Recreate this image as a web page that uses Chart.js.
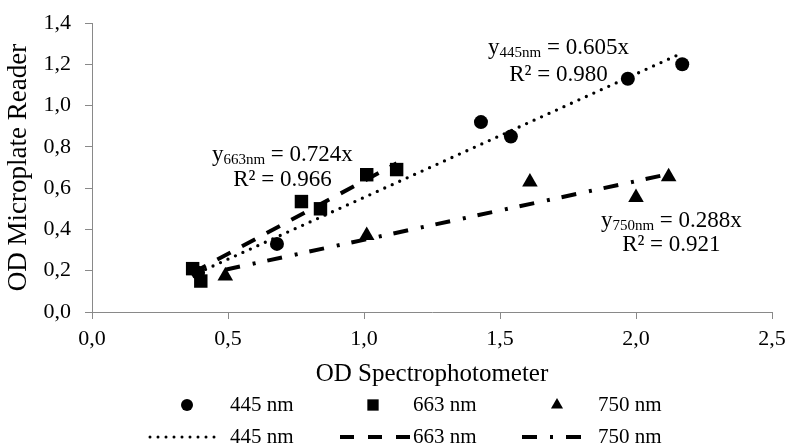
<!DOCTYPE html>
<html>
<head>
<meta charset="utf-8">
<script src="https://cdn.jsdelivr.net/npm/chart.js@4/dist/chart.umd.min.js"></script>
<style>
    body { margin: 0; background: #fff; }
    #wrap { position: relative; width: 787px; height: 447px; }
</style>
</head>
<body>
<div id="wrap"><canvas id="odChart"></canvas></div>
<script>
// measured points
const x445 = [0.39, 0.68, 1.43, 1.54, 1.97, 2.17];
const y445 = [0.19, 0.33, 0.92, 0.85, 1.13, 1.20];
const x663 = [0.37, 0.40, 0.77, 0.84, 1.01, 1.12];
const y663 = [0.21, 0.15, 0.535, 0.50, 0.665, 0.69];
const x750 = [0.49, 1.01, 1.61, 2.00, 2.12];
const y750 = [0.175, 0.37, 0.63, 0.555, 0.655];

// trendline ends
const trend445X = [0.39, 2.17];
const trend445Y = [0.19, 1.255];
const trend663X = [0.37, 1.12];
const trend663Y = [0.19, 0.72];
const trend750X = [0.49, 2.12];
const trend750Y = [0.205, 0.668];

const seriesNames = ['445 nm', '663 nm', '750 nm'];
const xTickLabels = ['0,0', '0,5', '1,0', '1,5', '2,0', '2,5'];
const yTickLabels = ['0,0', '0,2', '0,4', '0,6', '0,8', '1,0', '1,2', '1,4'];

const axisGray = '#898989';
const serif = "'Liberation Serif', 'Times New Roman', serif";

function pts(xs, ys) {
    return xs.map((x, i) => ({ x: x, y: ys[i] }));
}

// equation labels, centre given in data units
const equations = [
    { name: '445nm', slope: '0.605x', r2: '0.980', x: 1.715, y1: 1.278, y2: 1.147 },
    { name: '663nm', slope: '0.724x', r2: '0.966', x: 0.70, y1: 0.759, y2: 0.638 },
    { name: '750nm', slope: '0.288x', r2: '0.921', x: 2.13, y1: 0.441, y2: 0.323 }
];

const equationPlugin = {
    id: 'equations',
    afterDatasetsDraw(chart) {
        const ctx = chart.ctx;
        const xs = chart.scales.x, ys = chart.scales.y;
        ctx.save();
        ctx.fillStyle = '#000';
        ctx.textBaseline = 'middle';
        equations.forEach(eq => {
            const cx = xs.getPixelForValue(eq.x);
            const big = '23px ' + serif, small = '15px ' + serif;
            const rest = ' = ' + eq.slope;
            ctx.font = big;
            const wy = ctx.measureText('y').width;
            const wr = ctx.measureText(rest).width;
            ctx.font = small;
            const ws = ctx.measureText(eq.name).width;
            let x = cx - (wy + ws + wr) / 2;
            const y1 = ys.getPixelForValue(eq.y1);
            ctx.textAlign = 'left';
            ctx.font = big;
            ctx.fillText('y', x, y1);
            ctx.font = small;
            ctx.fillText(eq.name, x + wy, y1 + 5);
            ctx.font = big;
            ctx.fillText(rest, x + wy + ws, y1);
            ctx.textAlign = 'center';
            ctx.fillText('R² = ' + eq.r2, cx, ys.getPixelForValue(eq.y2));
        });
        ctx.restore();
    }
};

const legendPlugin = {
    id: 'twoRowLegend',
    afterDraw(chart) {
        const ctx = chart.ctx;
        const markers = [
            { style: 'circle', r: 6, x: 187 },
            { style: 'rect', r: 8, x: 373 },
            { style: 'triangle', r: 7, x: 557 }
        ];
        const lines = [
            { dash: [0, 8], cap: 'round', w: 3, x0: 150, x1: 222 },
            { dash: [14, 14], cap: 'butt', w: 4, x0: 340, x1: 410 },
            { dash: [15, 13, 3, 13], cap: 'butt', w: 4, x0: 522, x1: 583 }
        ];
        const textX = [230, 413, 598];
        const row1 = 405, row2 = 437;
        ctx.save();
        ctx.fillStyle = '#000';
        ctx.strokeStyle = '#000';
        ctx.font = '21px ' + serif;
        ctx.textBaseline = 'middle';
        ctx.textAlign = 'left';
        markers.forEach((m, i) => {
            Chart.helpers.drawPoint(ctx, { pointStyle: m.style, radius: m.r, rotation: 0, borderWidth: 0 }, m.x, row1);
            ctx.fillText(seriesNames[i], textX[i], row1);
        });
        lines.forEach((l, i) => {
            ctx.beginPath();
            ctx.setLineDash(l.dash);
            ctx.lineCap = l.cap;
            ctx.lineWidth = l.w;
            ctx.moveTo(l.x0, row2);
            ctx.lineTo(l.x1, row2);
            ctx.stroke();
            ctx.setLineDash([]);
            ctx.fillText(seriesNames[i], textX[i], row2);
        });
        ctx.restore();
    }
};

const ctx = document.getElementById('odChart').getContext('2d');
new Chart(ctx, {
    type: 'scatter',
    data: {
        datasets: [
            {
                label: seriesNames[0], data: pts(x445, y445), order: 3,
                pointStyle: 'circle', pointRadius: 7, backgroundColor: '#000', borderColor: '#000', borderWidth: 0
            },
            {
                label: seriesNames[1], data: pts(x663, y663), order: 2,
                pointStyle: 'rect', pointRadius: 9.5, backgroundColor: '#000', borderColor: '#000', borderWidth: 0
            },
            {
                label: seriesNames[2], data: pts(x750, y750), order: 1,
                pointStyle: 'triangle', pointRadius: 9, backgroundColor: '#000', borderColor: '#000', borderWidth: 0
            },
            {
                type: 'line', label: 'Linear (445 nm)', data: pts(trend445X, trend445Y), order: 4,
                borderColor: '#000', borderWidth: 3.3, borderDash: [0, 8.2], borderCapStyle: 'round',
                pointRadius: 0, fill: false
            },
            {
                type: 'line', label: 'Linear (663 nm)', data: pts(trend663X, trend663Y), order: 5,
                borderColor: '#000', borderWidth: 4, borderDash: [15, 13], borderCapStyle: 'butt',
                pointRadius: 0, fill: false
            },
            {
                type: 'line', label: 'Linear (750 nm)', data: pts(trend750X, trend750Y), order: 6,
                borderColor: '#000', borderWidth: 4, borderDash: [15, 13, 3, 12], borderCapStyle: 'butt',
                pointRadius: 0, fill: false
            }
        ]
    },
    options: {
        responsive: true,
        maintainAspectRatio: false,
        animation: false,
        layout: { padding: { top: 23, right: 15, bottom: 58, left: 0 } },
        plugins: {
            legend: { display: false },
            tooltip: { enabled: false }
        },
        scales: {
            x: {
                type: 'linear', min: 0, max: 2.5,
                afterFit(scale) {
                    scale.height = 77;
                    scale.paddingLeft = 0;
                    scale.paddingRight = 0;
                },
                ticks: {
                    stepSize: 0.5, color: '#000', padding: 7,
                    font: { family: serif, size: 22 },
                    callback: (v, i) => xTickLabels[i]
                },
                grid: { drawOnChartArea: false, drawTicks: true, tickLength: 7, color: axisGray },
                border: { color: axisGray, width: 1 },
                title: {
                    display: true, text: 'OD Spectrophotometer', color: '#000',
                    font: { family: serif, size: 25 }, padding: { top: 0, bottom: 0 }
                }
            },
            y: {
                type: 'linear', min: 0, max: 1.4,
                afterFit(scale) {
                    scale.width = 92;
                    scale.paddingTop = 0;
                    scale.paddingBottom = 0;
                },
                ticks: {
                    stepSize: 0.2, color: '#000', padding: 14,
                    font: { family: serif, size: 22 },
                    callback: (v, i) => yTickLabels[i]
                },
                grid: { drawOnChartArea: false, drawTicks: true, tickLength: 7, color: axisGray },
                border: { color: axisGray, width: 1 },
                title: {
                    display: true, text: 'OD Microplate Reader', color: '#000',
                    font: { family: serif, size: 27 }, padding: { top: 3, bottom: 0 }
                }
            }
        }
    },
    plugins: [equationPlugin, legendPlugin]
});
</script>
</body>
</html>
